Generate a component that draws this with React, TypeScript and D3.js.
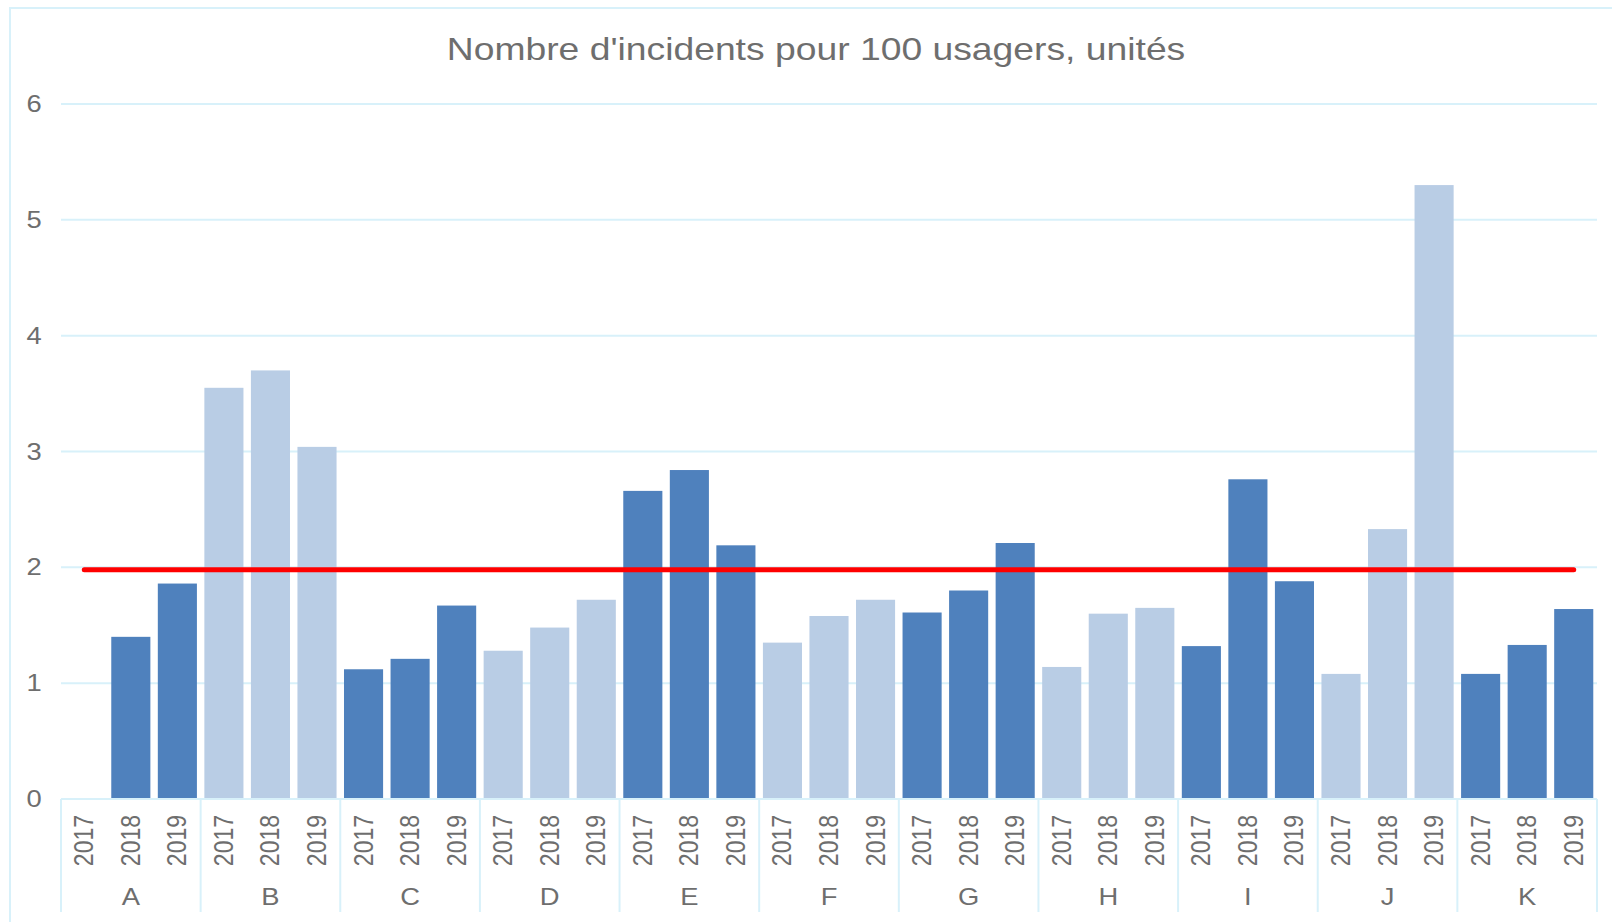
import React from "react";
import * as d3 from "d3";

const groups = ["A", "B", "C", "D", "E", "F", "G", "H", "I", "J", "K"];
const years = ["2017", "2018", "2019"];
const values2017: (number | null)[] = [null, 3.55, 1.12, 1.28, 2.66, 1.35, 1.61, 1.14, 1.32, 1.08, 1.08];
const values2018: (number | null)[] = [1.40, 3.70, 1.21, 1.48, 2.84, 1.58, 1.80, 1.60, 2.76, 2.33, 1.33];
const values2019: (number | null)[] = [1.86, 3.04, 1.67, 1.72, 2.19, 1.72, 2.21, 1.65, 1.88, 5.30, 1.64];
const referenceValue = 1.98;
const yTicks = [0, 1, 2, 3, 4, 5, 6];
const title = "Nombre d'incidents pour 100 usagers, unités";

const W = 1612;
const H = 922;
const left = 61;
const right = 1597;
const top = 104;
const bottom = 799;
const SX = 1.19;
const FONT = "'Liberation Sans', Arial, Helvetica, sans-serif";
const TEXT = "#6e6e6e";
const GRID = "#d8f1fa";
const DARK = "#4f81bd";
const LIGHT = "#b9cde5";

type Row = { key: string; group: string; year: string; gi: number; value: number | null };

export default function App() {
  const seriesByYear = [values2017, values2018, values2019];
  const rows: Row[] = [];
  groups.forEach((g, gi) => {
    years.forEach((yr, yi) => {
      rows.push({ key: g + "-" + yr, group: g, year: yr, gi, value: seriesByYear[yi][gi] });
    });
  });

  const x = d3
    .scaleBand<string>()
    .domain(rows.map((r) => r.key))
    .range([left, right])
    .paddingInner(0.16)
    .paddingOuter(0.08);
  const step = x.step();
  const y = d3.scaleLinear().domain([0, 6]).range([bottom, top]);

  const firstC = (x(rows[0].key) as number) + x.bandwidth() / 2;
  const lastC = (x(rows[rows.length - 1].key) as number) + x.bandwidth() / 2;
  const refLine = d3.line<number>()([
    [firstC, y(referenceValue)],
    [lastC, y(referenceValue)],
  ] as any);

  const groupStart = (gi: number) => left + step * 3 * gi;

  return (
    <svg
      width={W}
      height={H}
      style={{ position: "absolute", left: 0, top: 0, background: "#fff" }}
    >
      <rect x={10} y={8} width={1640} height={960} fill="#fff" stroke={GRID} strokeWidth={2} />
      <text
        transform={`translate(816,60) scale(1.165,1)`}
        textAnchor="middle"
        fontFamily={FONT}
        fontSize={32}
        fill={TEXT}
      >
        {title}
      </text>
      {yTicks.map((t) => (
        <g key={t}>
          {t > 0 && (
            <line x1={left} x2={right} y1={y(t)} y2={y(t)} stroke={GRID} strokeWidth={2} />
          )}
          <text
            transform={`translate(34,${y(t) + 8}) scale(${SX},1)`}
            textAnchor="middle"
            fontFamily={FONT}
            fontSize={23}
            fill={TEXT}
          >
            {t}
          </text>
        </g>
      ))}
      {rows.map((r) =>
        r.value == null ? null : (
          <rect
            key={r.key}
            x={x(r.key)}
            y={y(r.value)}
            width={x.bandwidth()}
            height={y(0) - y(r.value)}
            fill={r.gi % 2 === 0 ? DARK : LIGHT}
          />
        )
      )}
      <line x1={left} x2={right} y1={bottom} y2={bottom} stroke={GRID} strokeWidth={2} />
      {d3.range(groups.length + 1).map((gi) => (
        <line
          key={gi}
          x1={groupStart(gi)}
          x2={groupStart(gi)}
          y1={bottom}
          y2={912}
          stroke={GRID}
          strokeWidth={2}
        />
      ))}
      {rows.map((r) => {
        const cx = (x(r.key) as number) + x.bandwidth() / 2;
        return (
          <text
            key={"lbl" + r.key}
            transform={`translate(${cx + 9},815) scale(${SX},1) rotate(-90)`}
            textAnchor="end"
            fontFamily={FONT}
            fontSize={23}
            fill={TEXT}
          >
            {r.year}
          </text>
        );
      })}
      {groups.map((g, gi) => (
        <text
          key={"g" + g}
          transform={`translate(${groupStart(gi) + step * 1.5},905) scale(${SX},1)`}
          textAnchor="middle"
          fontFamily={FONT}
          fontSize={23}
          fill={TEXT}
        >
          {g}
        </text>
      ))}
      <path d={refLine || ""} stroke="#ff0000" strokeWidth={5} strokeLinecap="round" fill="none" />
    </svg>
  );
}
